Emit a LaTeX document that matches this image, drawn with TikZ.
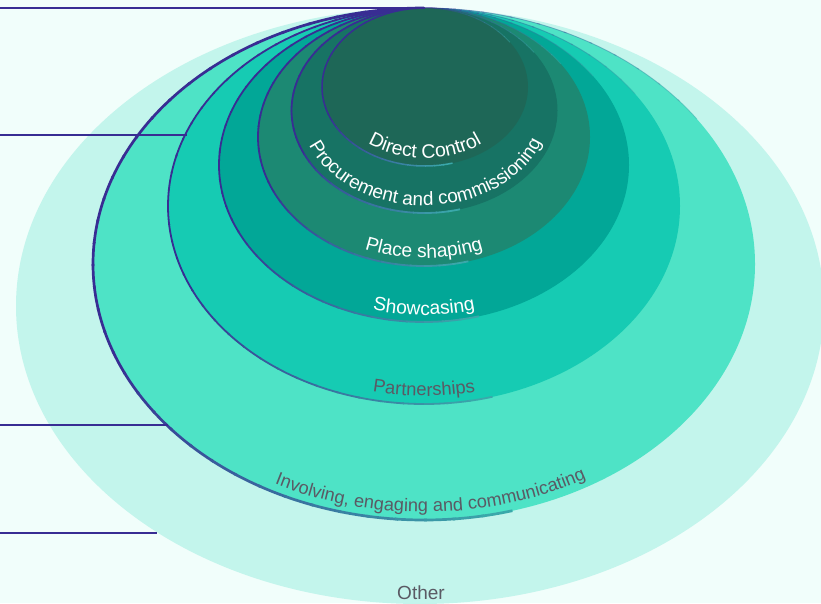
\documentclass[tikz,border=0pt]{standalone}
\usepackage{fontspec}
\setmainfont{Liberation Sans}
\usetikzlibrary{decorations.text}
\definecolor{bg}{HTML}{F1FEFB}
\definecolor{cOther}{HTML}{C3F5EC}
\definecolor{cInv}{HTML}{4EE3C6}
\definecolor{cPart}{HTML}{16CBB3}
\definecolor{cShow}{HTML}{02A797}
\definecolor{cPlace}{HTML}{1C8973}
\definecolor{cProc}{HTML}{177364}
\definecolor{cDirect}{HTML}{1E6757}
\definecolor{indigo}{HTML}{382D93}
\definecolor{edgeteal}{HTML}{3AA8AA}
\definecolor{labgray}{HTML}{5A5A64}
\tikzset{
  leader/.style={draw=indigo, line width=1.9pt},
  labelfont/.style={font=\fontsize{19}{22}\selectfont},
}
% outline of the left side of a ring: #1 cx, #2 cy, #3 rx, #4 ry, #5 width
\newcommand\RingOutline[5]{%
  \foreach \a in {90,95,...,280}{%
    \pgfmathtruncatemacro\p{max(0,min(100,(280-\a)*1.25))}%
    \draw[draw=indigo!\p!edgeteal, line width=#5]
      (#1,#2) ++(\a:#3 and #4) arc[start angle=\a, end angle=\a+5.5, x radius=#3, y radius=#4];
  }%
  \foreach \a in {90,85,...,40}{%
    \pgfmathtruncatemacro\p{max(0,min(100,(\a-40)*2))}%
    \draw[draw=indigo!\p!edgeteal, line width=0.9pt, draw opacity=0.45]
      (#1,#2) ++(\a:#3 and #4) arc[start angle=\a, end angle=\a-5.5, x radius=#3, y radius=#4];
  }%
}
% curved label: cx cy rx ry color size text start-angle
\newcommand\CurveLabel[8]{%
  \path[decorate, decoration={text along path, text align=center, text color=#5,
    text={|\fontsize{#6}{22}\selectfont|#7}}]
    (#1,#2) ++(#8:#3 and #4) arc[start angle=#8, delta angle=180, x radius=#3, y radius=#4];
}
\begin{document}
\begin{tikzpicture}[x=1pt,y=1pt]
\useasboundingbox (0,0) rectangle (821,-603);
\fill[bg] (0,0) rectangle (821,-603);
\begin{scope}
\clip (0,0) rectangle (821,-603);
\fill[cOther]  (420,-306)   ellipse [x radius=404, y radius=298];
\fill[cInv]    (424,-264)   ellipse [x radius=331, y radius=256];
\RingOutline{424}{-264}{331}{256}{2.7pt}
\fill[cPart]   (424,-206)   ellipse [x radius=256, y radius=198];
\RingOutline{424}{-206}{256}{198}{1.8pt}
\fill[cShow]   (424,-165)   ellipse [x radius=205, y radius=157];
\RingOutline{424}{-165}{205}{157}{1.8pt}
\fill[cPlace]  (424,-137)   ellipse [x radius=166, y radius=129];
\RingOutline{424}{-137}{166}{129}{1.8pt}
\fill[cProc]   (424.5,-110.5) ellipse [x radius=133, y radius=102.5];
\RingOutline{424.5}{-110.5}{133}{102.5}{1.8pt}
\fill[cDirect] (425,-87)    ellipse [x radius=103, y radius=79];
\RingOutline{425}{-87}{103}{79}{1.5pt}
\end{scope}
% labels
\CurveLabel{425}{-87}{94}{71}{white}{19.5}{Direct Control}{180}
\CurveLabel{424.5}{-110.5}{124}{95}{white}{19}{Procurement and commissioning}{181}
\CurveLabel{424}{-137}{158}{121}{white}{19.2}{Place shaping}{180}
\CurveLabel{424}{-165}{198}{150}{white}{19.2}{Showcasing}{180}
\CurveLabel{424}{-206}{248}{190}{labgray}{18.4}{Partnerships}{180}
\CurveLabel{424}{-264}{323}{248}{labgray}{18.2}{Involving, engaging and communicating}{181.6}
\node[labelfont, text=labgray, inner sep=0pt] (other) at (421,-593) {Other};
% leader lines
\coordinate (l1s) at (0,-8);   \coordinate (l1e) at (421,-8);
\coordinate (l2s) at (0,-135); \coordinate (l2e) at (187,-135);
\coordinate (l3s) at (0,-425); \coordinate (l3e) at (168,-425);
\coordinate (l4s) at (0,-533); \coordinate (l4e) at (157,-533);
\draw[leader] (l1s) -- (l1e);
\draw[leader] (l2s) -- (l2e);
\draw[leader] (l3s) -- (l3e);
\draw[leader] (l4s) -- (l4e);
\end{tikzpicture}
\end{document}
